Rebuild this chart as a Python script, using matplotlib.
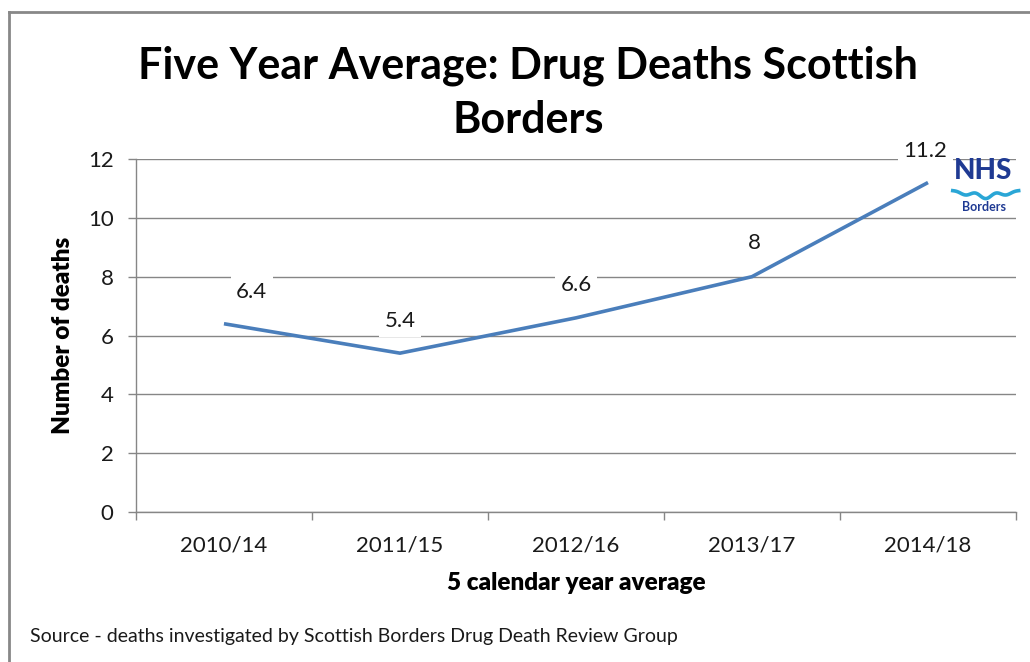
import numpy as np
import matplotlib.pyplot as plt
from matplotlib.lines import Line2D

plt.rcParams['font.family'] = ['Lato', 'DejaVu Sans']

# Five year rolling averages
periods = ['2010/14', '2011/15', '2012/16', '2013/17', '2014/18']
deaths = [6.4, 5.4, 6.6, 8, 11.2]
label_text = ['6.4', '5.4', '6.6', '8', '11.2']

fig = plt.figure(figsize=(10.30, 6.62), dpi=100)
ax = fig.add_axes([0.132, 0.2266, 0.8544, 0.5332])

x = np.arange(len(periods)) + 0.5
ax.plot(x, deaths, color='#4a7ebb', linewidth=2.6, solid_capstyle='butt', zorder=3)

# data labels above each point, white box knocks out the gridlines
offsets = [(20, 23), (0, 23), (0, 24), (2, 24), (-2, 23)]
for xi, yi, txt, off in zip(x, deaths, label_text, offsets):
    ax.annotate(txt, (xi, yi), xytext=off, textcoords='offset points',
                ha='center', va='center', fontsize=16, color='#1a1a1a',
                bbox=dict(boxstyle='square,pad=0.25', fc='white', ec='none'),
                zorder=4)

ax.set_xlim(0, 5)
ax.set_ylim(0, 12)
ax.set_yticks(np.arange(0, 13, 2))
ax.set_xticks(x)
ax.set_xticklabels(periods)
ax.set_xticks(np.arange(0, 6), minor=True)
ax.tick_params(axis='x', which='major', length=0, pad=17, labelsize=16, labelcolor='#1a1a1a')
ax.tick_params(axis='x', which='minor', length=6, width=1, color='#868686', direction='out')
ax.tick_params(axis='y', length=6, width=1, color='#868686', pad=10, labelsize=16, labelcolor='#1a1a1a')
ax.grid(axis='y', color='#868686', linewidth=1)
ax.set_axisbelow(True)
for s in ['top', 'right']:
    ax.spines[s].set_visible(False)
for s in ['left', 'bottom']:
    ax.spines[s].set_color('#868686')
    ax.spines[s].set_linewidth(1)

ax.set_ylabel('Number of deaths', fontsize=17.5, fontweight='heavy', labelpad=10)
ax.set_xlabel('5 calendar year average', fontsize=17.5, fontweight='heavy', labelpad=12)

fig.text(0.513, 0.860, 'Five Year Average: Drug Deaths Scottish\nBorders',
         ha='center', va='center', fontsize=31, fontweight='bold',
         linespacing=1.45)

fig.text(0.029, 0.038, 'Source - deaths investigated by Scottish Borders Drug Death Review Group',
         ha='left', va='center', fontsize=14, color='#1a1a1a')

# NHS Borders logo
fig.text(0.954, 0.742, 'NHS', ha='center', va='center', fontsize=20,
         fontweight='black', color='#1f3a93')
t = np.linspace(0, 1, 60)
wx = 0.925 + 0.064 * t
wy = 0.712 - 0.008 * np.sin(np.pi * t) + 0.004 * np.cos(6 * np.pi * t) * np.sin(np.pi * t)
fig.add_artist(Line2D(wx, wy, color='#2aa6d6', linewidth=2.6, transform=fig.transFigure))
fig.text(0.955, 0.688, 'Borders', ha='center', va='center', fontsize=9,
         fontweight='bold', color='#1f3a93')

# outer frame, top and left edges only
fig.add_artist(Line2D([0.0087, 0.0087], [0.0, 0.982], color='#888888', linewidth=2,
                      transform=fig.transFigure))
fig.add_artist(Line2D([0.0087, 1.0], [0.982, 0.982], color='#888888', linewidth=2,
                      transform=fig.transFigure))

fig.savefig('out.png', dpi=100, facecolor='white')
